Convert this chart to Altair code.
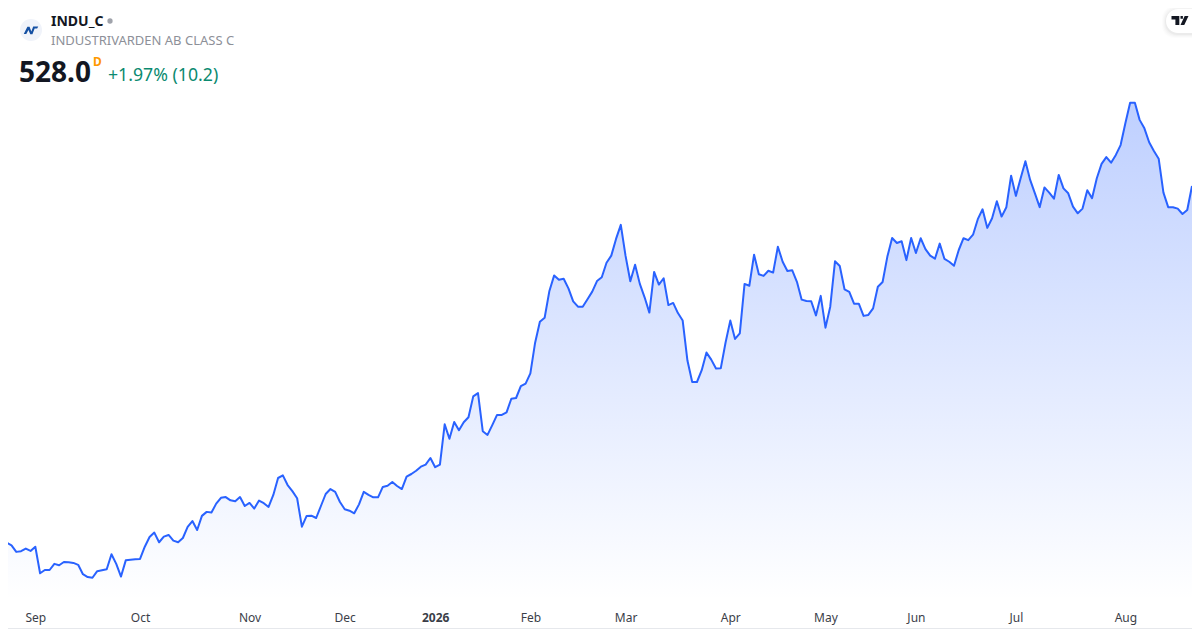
import altair as alt
import pandas as pd

PRICE = [
370.8,376.4,375.3,372.5,372.8,373.9,372.9,374.7,363.4,364.8,
364.8,367.4,366.8,368.2,368.1,367.8,367.0,363.0,361.8,361.5,
364.3,364.7,365.1,371.5,367.4,362.0,368.9,369.2,369.4,369.5,
374.7,378.8,380.7,376.6,379.0,379.7,377.3,376.6,378.4,383.1,
385.6,381.8,387.8,389.5,389.2,393.0,395.5,395.8,394.4,394.0,
395.8,392.0,393.3,390.9,394.3,393.2,391.6,396.7,403.9,405.0,
400.9,398.3,395.3,383.2,387.8,387.9,386.9,392.0,397.1,399.2,
398.0,393.7,390.6,390.0,388.9,392.7,398.0,396.7,395.7,395.7,
400.1,400.6,402.2,400.5,399.2,404.5,405.6,407.0,408.7,409.6,
412.4,408.5,409.6,426.7,420.6,427.7,424.2,427.6,429.7,438.6,
440.0,423.8,422.2,426.4,430.7,430.7,431.8,437.6,437.9,442.9,
444.0,448.4,461.4,470.3,472.0,483.4,490.0,488.2,488.6,484.5,
479.0,476.7,476.7,479.9,483.1,487.6,489.2,495.4,498.4,505.5,
511.5,498.3,487.5,494.5,486.4,480.7,474.2,491.5,486.1,488.8,
477.4,478.3,474.0,470.8,453.8,444.7,444.7,449.7,457.2,454.2,
450.4,450.5,461.4,470.8,463.0,465.4,486.4,485.6,498.8,490.5,
489.8,492.0,491.2,502.2,495.8,491.9,492.2,487.3,479.7,479.1,
479.0,473.0,481.3,467.8,476.7,496.0,494.0,484.1,483.0,478.0,
478.0,472.8,473.2,476.0,485.2,487.2,498.0,505.9,503.8,504.5,
496.5,505.9,499.5,505.8,501.2,498.4,497.1,503.5,497.0,495.8,
494.1,500.8,505.8,505.0,507.3,513.9,518.1,510.2,514.3,521.5,
515.0,519.0,532.4,523.8,531.3,538.5,530.6,524.9,519.0,527.4,
525.2,522.6,532.7,527.0,524.9,519.2,516.4,518.4,526.2,522.8,
531.3,537.4,540.3,537.9,541.2,545.4,554.7,563.4,563.4,556.1,
552.5,546.6,542.9,539.6,525.2,519.0,519.0,518.4,516.1,517.8,
528.0,
]
TICK_SESSIONS = [7, 29, 52, 72, 91, 111, 131, 153, 173, 192, 213, 236]
TICK_LABELS = ["Sep", "Oct", "Nov", "Dec", "2026", "Feb", "Mar", "Apr", "May", "Jun", "Jul", "Aug"]

SYMBOL = "INDU_C"
NAME = "INDUSTRIVARDEN AB CLASS C"
LAST = "528.0"
CHANGE = "+1.97% (10.2)"
FLOOR = 352.05
CEIL = 603.65

FONT = "Noto Sans"
df = pd.DataFrame({"session": list(range(len(PRICE))), "price": PRICE, "floor": [FLOOR] * len(PRICE)})

x_scale = alt.Scale(domain=[1.26, 250.0], nice=False, zero=False)
y_scale = alt.Scale(domain=[FLOOR, CEIL], nice=False, zero=False)

labels_js = "[" + ",".join(f"'{t}'" for t in TICK_LABELS) + "]"
pos_js = "[" + ",".join(str(v) for v in TICK_SESSIONS) + "]"
x_axis = alt.Axis(
    values=TICK_SESSIONS, title=None, grid=False, domain=False, ticks=False,
    labelExpr=f"{labels_js}[indexof({pos_js}, datum.value)]",
    labelFont=FONT, labelFontSize=12, labelColor="#3b3e48", labelPadding=12,
    labelOverlap=False, labelFlush=False,
    labelFontWeight=alt.condition("datum.value == 91", alt.value(700), alt.value(400)),
)

area = alt.Chart(df).mark_area(
    clip=True,
    line=False,
    color=alt.Gradient(
        gradient="linear", x1=1, x2=1, y1=0, y2=1,
        stops=[
            alt.GradientStop(color="rgba(41,98,255,0.30)", offset=0),
            alt.GradientStop(color="rgba(41,98,255,0.0)", offset=1),
        ],
    ),
).encode(
    x=alt.X("session:Q", scale=x_scale, axis=x_axis),
    y=alt.Y("price:Q", scale=y_scale, axis=None),
    y2="floor:Q",
)
line = alt.Chart(df).mark_line(color="#2962ff", strokeWidth=2, clip=True, strokeJoin="round").encode(
    x=alt.X("session:Q", scale=x_scale, axis=x_axis),
    y=alt.Y("price:Q", scale=y_scale, axis=None),
)


def one():
    return alt.Chart(pd.DataFrame({"n": [0]}))


def text(s, px, py, size, color, weight=400, font=FONT):
    return one().mark_text(
        text=s, align="left", baseline="alphabetic", font=font,
        fontSize=size, fontWeight=weight, color=color,
    ).encode(x=alt.value(px - 8), y=alt.value(py - 8))


def glyph(path, px, py, size, color):
    return one().mark_point(shape=path, size=size, filled=True, color=color, opacity=1, strokeWidth=0).encode(
        x=alt.value(px - 8), y=alt.value(py - 8)
    )


TV_PATH = ("M-1,-0.52L-0.08,-0.52L-0.08,0.52L-0.54,0.52L-0.54,-0.13L-1,-0.13Z"
           "M0.06,-0.52L0.34,-0.52L0.34,-0.2L0.06,-0.2Z"
           "M0.55,-0.52L1,-0.52L0.5,0.52L0.06,0.52Z")
N_PATH = ("M-1,0.55L-0.5,-0.45L-0.2,-0.45L0.05,0.2L0.3,-0.5L1,-0.5L0.85,-0.2L0.5,-0.2L0.2,0.6L-0.1,0.6"
          "L-0.35,0.0L-0.65,0.55Z")

PILL_LEFT = 1166
pill = [
    one().mark_rect(cornerRadius=12, color="#000000", opacity=o).encode(
        x=alt.value(PILL_LEFT - d - 8), x2=alt.value(1210), y=alt.value(9 - d - 8 + 1), y2=alt.value(33 + d - 8 + 1)
    )
    for d, o in [(4, 0.012), (3, 0.015), (2, 0.02), (1, 0.03)]
]
pill.append(
    one().mark_rect(cornerRadius=12, color="#ffffff").encode(
        x=alt.value(PILL_LEFT - 8), x2=alt.value(1210), y=alt.value(9 - 8), y2=alt.value(33 - 8)
    )
)

edge_bottom = one().mark_rule(color="#e6e8ec", strokeWidth=1).encode(
    x=alt.value(0), x2=alt.value(1184), y=alt.value(628.5 - 8)
)

chart = alt.layer(
    area, line,
    one().mark_circle(color="#f0f3fa", size=484, opacity=1).encode(x=alt.value(31 - 8), y=alt.value(30 - 8)),
    glyph(N_PATH, 31, 30, 210, "#1450a3"),
    text(SYMBOL, 51, 26, 14, "#131722", 700),
    one().mark_circle(color="#a0a3ab", size=28, opacity=1).encode(x=alt.value(110 - 8), y=alt.value(21 - 8)),
    text(NAME, 51, 45, 13, "#8d9098"),
    text(LAST, 19, 82, 28, "#131722", 700),
    text("D", 93, 66, 12, "#ff9800", 700),
    text(CHANGE, 108, 81, 17.7, "#0b8a70"),
    *pill,
    glyph(TV_PATH, 1180, 20.5, 289, "#131722"),
    edge_bottom,
).properties(
    width=1184, height=592,
    padding={"left": 0, "top": 0, "right": 0, "bottom": 30},
    autosize=alt.AutoSizeParams(type="none"),
    background="#ffffff",
).configure_view(stroke=None)

chart.save("out.html", embed_options={"renderer": "svg", "actions": False})
